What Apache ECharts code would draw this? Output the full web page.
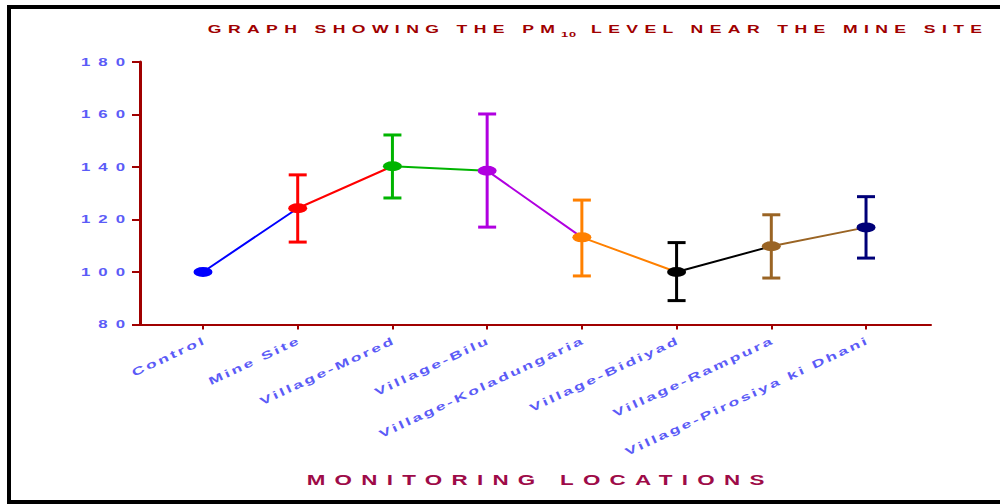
<!DOCTYPE html>
<html>
<head>
<meta charset="utf-8">
<script src="https://cdn.jsdelivr.net/npm/echarts@6/dist/echarts.min.js"></script>
<style>
  html, body { margin: 0; padding: 0; background: #fff; }
  #box1 { width: 1000px; height: 504px; }
</style>
</head>
<body>
<div id="box1"></div>
<script>
var categories = ['Control', 'Mine Site', 'Village-Mored', 'Village-Bilu', 'Village-Koladungaria',
  'Village-Bidiyad', 'Village-Rampura', 'Village-Pirosiya ki Dhani'];
var means = [100, 124.3, 140.3, 138.6, 113.2, 100, 109.8, 117.0];
var lower = [100, 111.4, 128.2, 117.1, 98.5, 89.1, 97.7, 105.3];
var upper = [100, 137.0, 152.2, 160.2, 127.4, 111.2, 121.8, 128.7];
var pointColors = ['#0000ff', '#ff0000', '#00b400', '#b000e0', '#ff8000', '#000000', '#9a6424', '#000078'];
var yTicks = [80, 100, 120, 140, 160, 180];
var axisName = 'MONITORING LOCATIONS';

var font = '"Liberation Sans", Arial, sans-serif';
var darkRed = '#a00000';
var labelBlue = '#5b5bf7';
var stretch = 1.6; // the original picture is stretched sideways

var dom = document.getElementById('box1');
var myChart = echarts.init(dom, null, { renderer: 'svg' });

var idx = categories.map(function (c, i) { return i; });
var pointData = means.map(function (v, i) { return [i, v]; });
var barData = means.map(function (v, i) { return [i, lower[i], upper[i]]; });

// one piece per segment so the line takes the colour of the point it leaves
var pieces = pointColors.map(function (c, i) {
  return i < pointColors.length - 1 ? { gte: i, lt: i + 1, color: c } : { gte: i, color: c };
});

// letter spacing (before stretch) for the svg texts
function spacingFor(str) {
  if (categories.indexOf(str) >= 0) return 1.6;
  if (str === axisName) return 5.8;
  if (str === '10') return 0.5;
  if (/^\d+$/.test(str)) return 5;
  return 4;
}
function spaceText() {
  var texts = dom.querySelectorAll('text');
  for (var i = 0; i < texts.length; i++) {
    var t = texts[i];
    if (t.getAttribute('data-done')) continue;
    var s = spacingFor(t.textContent);
    t.style.letterSpacing = s + 'px';
    var anchor = t.getAttribute('text-anchor');
    if (anchor === 'end') t.setAttribute('dx', s);
    else if (anchor === 'middle') t.setAttribute('dx', s / 2);
    // widen the glyphs around the text anchor
    var x = parseFloat(t.getAttribute('x')) || 0;
    var y = parseFloat(t.getAttribute('y')) || 0;
    var tr = t.getAttribute('transform') || '';
    t.setAttribute('transform', tr + ' translate(' + x + ' ' + y + ') scale(' + stretch + ' 1) translate(' + (-x) + ' ' + (-y) + ')');
    t.setAttribute('data-done', '1');
  }
}

option = {
  animation: false,
  backgroundColor: '#fff',
  graphic: [
    {
      type: 'rect',
      shape: { x: 9, y: 7, width: 1000, height: 495 },
      style: { fill: 'none', stroke: '#000', lineWidth: 4 }
    },
    {
      type: 'text', x: 555, y: 29,
      style: { text: 'GRAPH SHOWING THE PM', fill: darkRed, font: 'bold 11px ' + font, align: 'right', verticalAlign: 'middle' }
    },
    {
      type: 'text', x: 561, y: 34,
      style: { text: '10', fill: darkRed, font: 'bold 8px ' + font, align: 'left', verticalAlign: 'middle' }
    },
    {
      type: 'text', x: 591, y: 29,
      style: { text: 'LEVEL NEAR THE MINE SITE', fill: darkRed, font: 'bold 11px ' + font, align: 'left', verticalAlign: 'middle' }
    }
  ],
  grid: {
    left: 140,
    right: 69,
    top: 62,
    bottom: 179.5,
    outerBoundsMode: 'none'
  },
  visualMap: {
    show: false,
    type: 'piecewise',
    dimension: 0,
    seriesIndex: 0,
    pieces: pieces
  },
  xAxis: {
    type: 'value',
    min: -0.665,
    max: 7.686,
    name: axisName,
    nameLocation: 'middle',
    nameGap: 149,
    nameTextStyle: { color: '#9e0b48', fontWeight: 'bold', fontSize: 14, fontFamily: font },
    axisLine: { show: true, onZero: false, lineStyle: { color: darkRed, width: 2 } },
    axisTick: { show: true, customValues: idx, length: 5, lineStyle: { color: darkRed, width: 2 } },
    axisLabel: {
      customValues: idx,
      formatter: function (v) { return categories[v]; },
      rotate: 25,
      margin: 16,
      color: labelBlue,
      fontWeight: 'bold',
      fontSize: 11,
      fontFamily: font
    },
    splitLine: { show: false }
  },
  yAxis: {
    type: 'value',
    min: yTicks[0],
    max: yTicks[yTicks.length - 1],
    interval: 20,
    axisLine: { show: true, onZero: false, lineStyle: { color: darkRed, width: 3 } },
    axisTick: { show: true, length: 8, lineStyle: { color: darkRed, width: 2 } },
    axisLabel: { margin: 15, color: labelBlue, fontWeight: 'bold', fontSize: 10.5, fontFamily: font },
    splitLine: { show: false }
  },
  series: [
    {
      type: 'line',
      data: pointData,
      showSymbol: false,
      lineStyle: { width: 2 },
      z: 2
    },
    {
      type: 'custom',
      data: barData,
      encode: { x: 0, y: [1, 2] },
      z: 3,
      renderItem: function (params, api) {
        var lo = api.value(1), hi = api.value(2);
        if (lo === hi) return null;
        var top = api.coord([api.value(0), hi]);
        var bot = api.coord([api.value(0), lo]);
        var style = { stroke: pointColors[params.dataIndex], lineWidth: 3 };
        var half = 9;
        return {
          type: 'group',
          children: [
            { type: 'line', shape: { x1: top[0], y1: top[1], x2: bot[0], y2: bot[1] }, style: style },
            { type: 'line', shape: { x1: top[0] - half, y1: top[1], x2: top[0] + half, y2: top[1] }, style: style },
            { type: 'line', shape: { x1: bot[0] - half, y1: bot[1], x2: bot[0] + half, y2: bot[1] }, style: style }
          ]
        };
      }
    },
    {
      type: 'scatter',
      z: 4,
      symbol: 'path://M0 5a5 5 0 1 0 10 0a5 5 0 1 0 -10 0z',
      symbolSize: [19, 10],
      itemStyle: { opacity: 1 },
      data: pointData.map(function (p, i) {
        return { value: p, itemStyle: { color: pointColors[i] } };
      })
    }
  ]
};

myChart.on('finished', spaceText);
if (option && typeof option === 'object') {
  myChart.setOption(option);
}
spaceText();
setTimeout(spaceText, 50);
</script>
</body>
</html>
